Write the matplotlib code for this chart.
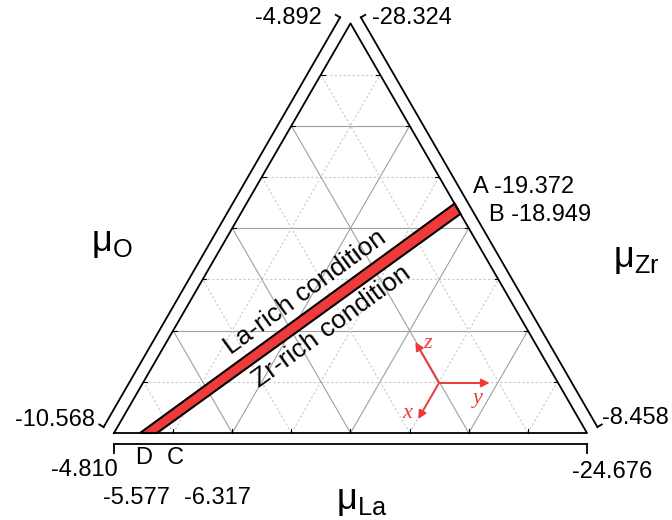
import numpy as np
import matplotlib.pyplot as plt
from matplotlib.patches import Polygon

plt.rcParams['font.family'] = ['Liberation Sans', 'DejaVu Sans']
plt.rcParams['mathtext.default'] = 'regular'

# values printed at the ends of each chemical-potential bracket
mu_o_ends = ['-10.568', '-4.892']    # left side, bottom -> top
mu_zr_ends = ['-28.324', '-8.458']   # right side, top -> bottom
mu_la_ends = ['-4.810', '-24.676']   # bottom side, left -> right

# stability band: boundary points and their values
band_labels = ['A', 'B', 'D', 'C']
band_values = ['-19.372', '-18.949', '-5.577', '-6.317']
# where the band edges meet the triangle, as fraction along the side
band_right = [0.44, 0.465]     # right side, from the top vertex
band_bottom = [0.055, 0.091]   # bottom side, from the left vertex
band_text = ['La-rich condition', 'Zr-rich condition']

axis_names = ['O', 'Zr', 'La']
n_div = 8

RED = '#ee3a3a'
H = np.sqrt(3) / 2
BL, BR, TOP = np.array([0.0, 0.0]), np.array([1.0, 0.0]), np.array([0.5, H])
CEN = (BL + BR + TOP) / 3

W, HT = 672, 520
SCALE = 473.0        # pixels per unit side
X0, Y0 = 114, 433    # pixel position of bottom-left vertex


def px(x, y):
    # pixel position (from top-left) -> data coords
    return (x - X0) / SCALE, (Y0 - y) / SCALE


fig = plt.figure(figsize=(W / 100, HT / 100), dpi=100)
ax = fig.add_axes([0, 0, 1, 1])
ax.set_xlim(px(0, 0)[0], px(W, 0)[0])
ax.set_ylim(px(0, HT)[1], px(0, 0)[1])
ax.axis('off')

# grid lines parallel to the three sides
for k in range(1, n_div):
    f = k / n_div
    segs = [
        (BL + f * (TOP - BL), BR + f * (TOP - BR)),
        (BL + f * (BR - BL), TOP + f * (BR - TOP)),
        (BL + f * (BR - BL), BL + f * (TOP - BL)),
    ]
    for a, b in segs:
        if k % 2 == 0:
            ax.plot([a[0], b[0]], [a[1], b[1]], color='#a0a0a0', lw=0.8, zorder=1)
        else:
            ax.plot([a[0], b[0]], [a[1], b[1]], color='#c8c8c8', lw=0.8,
                    ls=(0, (2, 2)), zorder=1)
    # small ticks on the sides
    t = 0.008
    p = BL + f * (BR - BL)
    ax.plot([p[0], p[0]], [p[1], p[1] + t], color='k', lw=0.8, zorder=2)
    p = TOP + f * (BR - TOP)
    ax.plot([p[0], p[0] - t], [p[1], p[1]], color='k', lw=0.8, zorder=2)
    p = BL + f * (TOP - BL)
    ax.plot([p[0], p[0] + t], [p[1], p[1]], color='k', lw=0.8, zorder=2)

tri = np.array([BL, BR, TOP, BL])
ax.plot(tri[:, 0], tri[:, 1], color='k', lw=1.3, zorder=4)


def bracket(p, q, d, t):
    v = (q - p) / np.linalg.norm(q - p)
    n = np.array([-v[1], v[0]])
    if np.dot(n, (p + q) / 2 - CEN) < 0:
        n = -n
    a, b = p + n * d, q + n * d
    ax.plot([a[0], b[0]], [a[1], b[1]], color='k', lw=1.3)
    for e in (a, b):
        ax.plot([e[0], e[0] + n[0] * t], [e[1], e[1] + n[1] * t], color='k', lw=1.3)


bracket(BL, TOP, 12 / SCALE, 5 / SCALE)
bracket(TOP, BR, 12 / SCALE, 5 / SCALE)
bracket(BL, BR, 10.5 / SCALE, 9 / SCALE)

# stability band
p1 = BL + band_bottom[0] * (BR - BL)
p2 = TOP + band_right[0] * (BR - TOP)
p3 = TOP + band_right[1] * (BR - TOP)
p4 = BL + band_bottom[1] * (BR - BL)
ax.add_patch(Polygon([p1, p2, p3, p4], closed=True, facecolor=RED,
                     edgecolor='k', lw=1.5, zorder=3))
ang = np.degrees(np.arctan2(p2[1] - p1[1], p2[0] - p1[0]))
ax.text(*px(305, 292), band_text[0], fontsize=19, rotation=ang,
        rotation_mode='anchor', ha='center', va='center')
ax.text(*px(331, 327), band_text[1], fontsize=19, rotation=ang,
        rotation_mode='anchor', ha='center', va='center')

# bracket end values
fs = 17
ax.text(*px(322, 18), mu_o_ends[1], fontsize=fs, ha='right', va='center')
ax.text(*px(95, 420), mu_o_ends[0], fontsize=fs, ha='right', va='center')
ax.text(*px(372, 18), mu_zr_ends[0], fontsize=fs, ha='left', va='center')
ax.text(*px(602, 418), mu_zr_ends[1], fontsize=fs, ha='left', va='center')
ax.text(*px(118, 470), mu_la_ends[0], fontsize=fs, ha='right', va='center')
ax.text(*px(612, 472), mu_la_ends[1], fontsize=fs, ha='center', va='center')

ax.text(*px(473, 187), f'{band_labels[0]} {band_values[0]}', fontsize=fs,
        ha='left', va='center')
ax.text(*px(489, 215), f'{band_labels[1]} {band_values[1]}', fontsize=fs,
        ha='left', va='center')
ax.text(*px(144, 458), band_labels[2], fontsize=fs, ha='center', va='center')
ax.text(*px(175, 458), band_labels[3], fontsize=fs, ha='center', va='center')
ax.text(*px(137, 498), band_values[2], fontsize=fs, ha='center', va='center')
ax.text(*px(218, 498), band_values[3], fontsize=fs, ha='center', va='center')

# axis names
ax.text(*px(112, 243), f'μ$_{{{axis_names[0]}}}$', fontsize=26, ha='center', va='center')
ax.text(*px(636, 258), f'μ$_{{{axis_names[1]}}}$', fontsize=26, ha='center', va='center')
ax.text(*px(362, 500), f'μ$_{{{axis_names[2]}}}$', fontsize=26, ha='center', va='center')

# little x/y/z direction key
o = np.array(px(439, 383))
for lab, deg, ln, lp in [('z', 120, 0.1, (428, 343)), ('y', 0, 0.107, (478, 398)),
                         ('x', 240, 0.088, (407, 414))]:
    r = np.radians(deg)
    end = o + ln * np.array([np.cos(r), np.sin(r)])
    ax.annotate('', xy=end, xytext=o,
                arrowprops=dict(arrowstyle='-|>', color=RED, lw=1.4,
                                mutation_scale=12, shrinkA=0, shrinkB=0))
    ax.text(*px(*lp), lab, fontsize=16, color=RED, family='Liberation Serif',
            style='italic', ha='center', va='center')

fig.savefig('out.png', dpi=100)
